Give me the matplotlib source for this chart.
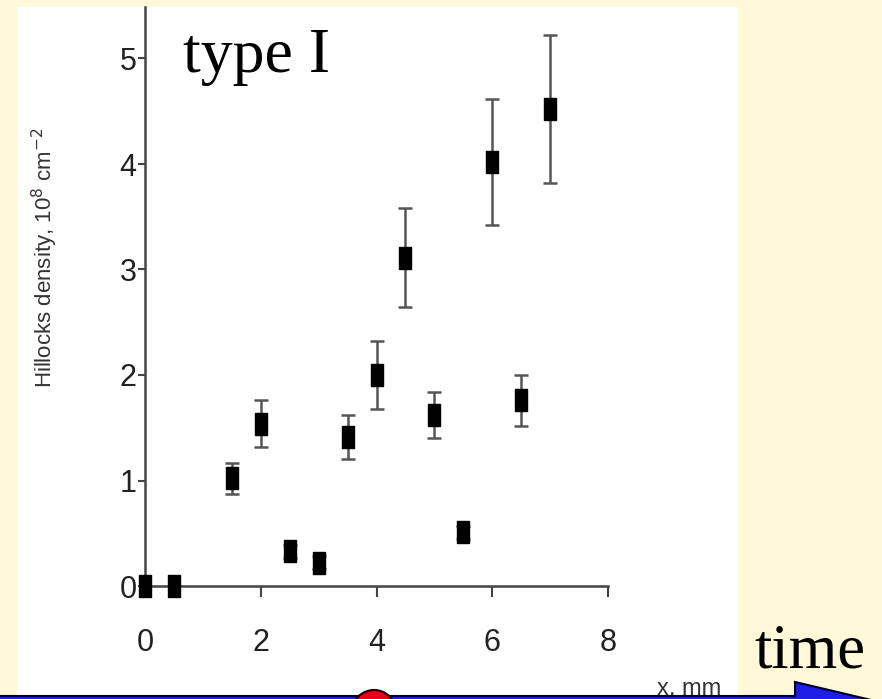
import numpy as np
import matplotlib
matplotlib.use("Agg")
import matplotlib.pyplot as plt
from matplotlib.patches import Rectangle, Polygon, Circle
from matplotlib.path import Path

# data
x_mm = [0.0, 0.5, 1.5, 2.0, 2.5, 3.0, 3.5, 4.0, 4.5, 5.0, 5.5, 6.0, 6.5, 7.0]
density = [0.0, 0.0, 1.02, 1.54, 0.33, 0.22, 1.41, 2.0, 3.11, 1.62, 0.51, 4.02, 1.76, 4.52]
err = [0.0, 0.0, 0.15, 0.22, 0.06, 0.06, 0.21, 0.32, 0.47, 0.22, 0.06, 0.60, 0.24, 0.70]
xticks = [0, 2, 4, 6, 8]
yticks = [0, 1, 2, 3, 4, 5]

W, H = 882, 699
BG = "#FFF9DA"

fig = plt.figure(figsize=(W / 100, H / 100), dpi=100, facecolor=BG)

# background layer (white panel of the pasted figure)
bg = fig.add_axes([0, 0, 1, 1], zorder=-5)
bg.set_xlim(0, W)
bg.set_ylim(H, 0)
bg.axis("off")
bg.add_patch(Rectangle((18, 7), 720, 700, facecolor="white", edgecolor="none"))

# main axes, pixel box: x 145..608, y 7..586
left, right, top, bottom = 145, 608, 7, 586
ax = fig.add_axes([left / W, (H - bottom) / H, (right - left) / W, (bottom - top) / H])
ax.patch.set_alpha(0)
ax.set_xlim(0, 8)
ax.set_ylim(0, (bottom - top) / 105.5)

rect = Path([(-0.5, -1), (0.5, -1), (0.5, 1), (-0.5, 1), (-0.5, -1)],
            [Path.MOVETO, Path.LINETO, Path.LINETO, Path.LINETO, Path.CLOSEPOLY])
ax.errorbar(x_mm, density, yerr=err, fmt="none", ecolor="#555555",
            elinewidth=1.8, capsize=5, capthick=1.8, zorder=2)
ax.plot(x_mm, density, linestyle="none", marker=rect, markersize=16,
        color="black", clip_on=False, zorder=3)

for s in ["top", "right"]:
    ax.spines[s].set_visible(False)
for s in ["left", "bottom"]:
    ax.spines[s].set_color("#444444")
    ax.spines[s].set_linewidth(1.8)
ax.set_xticks(xticks)
ax.set_yticks(yticks)
ax.tick_params(axis="both", direction="out", colors="#444444", width=1.5,
               labelcolor="#222222", labelsize=22)
ax.tick_params(axis="x", length=8, pad=22)
ax.tick_params(axis="y", length=5, pad=1)
for lab in ax.get_xticklabels() + ax.get_yticklabels():
    lab.set_family(["Liberation Sans", "DejaVu Sans"])

ax.text(0.66, 4.87, "type I", fontsize=46, family=["Liberation Serif", "DejaVu Serif"],
        ha="left", va="baseline", color="black")

fig.text(45 / W, 1 - 258 / H, "Hillocks density, 10$^8$ cm$^{-2}$", rotation=90,
         fontsize=16, color="#333333", ha="center", va="center",
         family=["Liberation Sans", "DejaVu Sans"])

# overlay layer: slide decorations
ov = fig.add_axes([0, 0, 1, 1], zorder=10)
ov.set_xlim(0, W)
ov.set_ylim(H, 0)
ov.axis("off")
ov.text(689, 695, "x, mm", fontsize=17, color="#333333", ha="center", va="baseline",
        family=["Liberation Sans", "DejaVu Sans"], zorder=1)
ov.text(810, 668, "time", fontsize=45, color="black", ha="center", va="baseline",
        family=["Liberation Serif", "DejaVu Serif"])
ov.add_patch(Polygon([(-10, 696), (795, 696), (795, 682), (905, 708), (795, 734),
                      (795, 724), (-10, 724)], closed=True,
                     facecolor="#1E1EE6", edgecolor="black", linewidth=1.5, zorder=2))
ov.add_patch(Circle((374, 712), 22, facecolor="#E8001C", edgecolor="black",
                    linewidth=1.5, zorder=3))

fig.savefig("out.png", dpi=100, facecolor=BG)
